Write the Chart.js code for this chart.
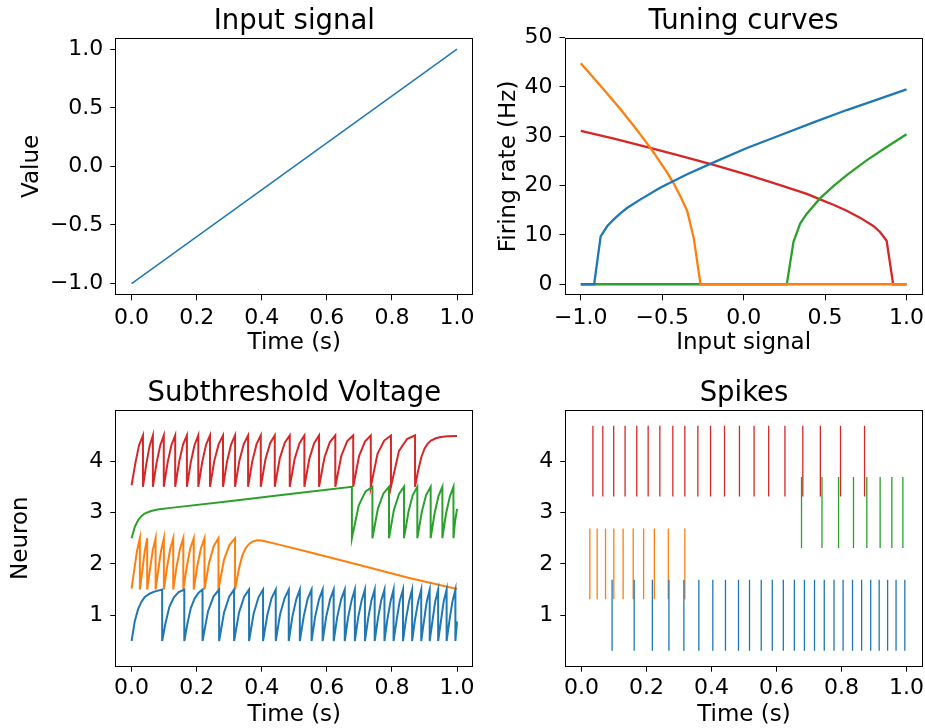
<!DOCTYPE html>
<html><head><meta charset="utf-8">
<script src="https://cdn.jsdelivr.net/npm/chart.js@4.4.1/dist/chart.umd.min.js"></script>
<style>
html,body{margin:0;padding:0;background:#fff;}
#fig{position:relative;width:925px;height:728px;overflow:hidden;background:#fff;}
canvas{position:absolute;left:0;top:0;}
.ttl{position:absolute;width:420px;text-align:center;font-family:'DejaVu Sans';font-size:27.5px;line-height:1;color:#000;white-space:nowrap;}
</style></head><body>
<div id="fig">
<canvas id="c1" width="925" height="728"></canvas>
<canvas id="c2" width="925" height="728"></canvas>
<canvas id="c3" width="925" height="728"></canvas>
<canvas id="c4" width="925" height="728"></canvas>
<div class="ttl" style="left:84.3px;top:6px">Input signal</div>
<div class="ttl" style="left:533.6px;top:6px">Tuning curves</div>
<div class="ttl" style="left:84.3px;top:378.2px">Subthreshold Voltage</div>
<div class="ttl" style="left:534px;top:378.2px">Spikes</div>
</div>
<script>
// ---------------- data ----------------
const colors = ['#1f77b4', '#ff7f0e', '#2ca02c', '#d62728'];

const timeTicks = [0, 0.2, 0.4, 0.6, 0.8, 1.0];
const timeTickLabels = ['0.0', '0.2', '0.4', '0.6', '0.8', '1.0'];
const signalTicks = [-1, -0.5, 0, 0.5, 1];
const signalTickLabels = ['\u22121.0', '\u22120.5', '0.0', '0.5', '1.0'];
const rateTicks = [0, 10, 20, 30, 40, 50];
const rateTickLabels = ['0', '10', '20', '30', '40', '50'];
const neuronTicks = [1, 2, 3, 4];
const neuronTickLabels = ['1', '2', '3', '4'];

// Input signal
const inputTime = [0, 1];
const inputValue = [-1, 1];

// Tuning curves: [input, rate Hz]
const tuning1 = [[-1,0],[-0.918,0],[-0.878,9.7],[-0.837,11.8],[-0.796,13.2],[-0.755,14.4],[-0.714,15.5],[-0.633,17.2],[-0.510,19.6],[-0.347,22.3],[-0.184,24.7],[0.020,27.6],[0.224,30.2],[0.429,32.8],[0.633,35.3],[0.837,37.6],[1.0,39.5]];
const tuning2 = [[-1,44.8],[-0.918,41.7],[-0.837,38.6],[-0.755,35.4],[-0.673,32.0],[-0.592,28.5],[-0.551,26.6],[-0.510,24.6],[-0.469,22.6],[-0.429,20.4],[-0.388,17.8],[-0.347,14.9],[-0.306,9.3],[-0.265,0],[1.0,0]];
const tuning3 = [[-1,0],[0.265,0],[0.306,8.6],[0.347,12.3],[0.388,14.3],[0.469,17.4],[0.551,19.9],[0.633,22.1],[0.755,25.1],[0.878,27.8],[1.0,30.4]];
const tuning4 = [[-1,31.1],[-0.796,29.5],[-0.592,27.8],[-0.388,26.0],[-0.184,24.2],[0.020,22.2],[0.224,20.1],[0.388,18.3],[0.469,17.2],[0.551,16.1],[0.633,14.9],[0.714,13.5],[0.796,11.8],[0.837,10.6],[0.878,8.8],[0.918,0],[1.0,0]];

// Spike times (s)
const spikes1 = [0.094,0.162,0.218,0.269,0.315,0.361,0.404,0.443,0.483,0.517,0.553,0.587,0.621,0.655,0.686,0.717,0.747,0.777,0.805,0.834,0.862,0.890,0.916,0.942,0.968,0.995];
const spikes2 = [0.0255,0.048,0.0738,0.0993,0.128,0.159,0.191,0.224,0.267,0.318];
const spikes3 = [0.677,0.740,0.791,0.837,0.878,0.919,0.955,0.989];
const spikes4 = [0.035,0.0655,0.099,0.134,0.170,0.205,0.241,0.281,0.318,0.358,0.397,0.440,0.486,0.531,0.576,0.626,0.681,0.735,0.797,0.871];

// Subthreshold voltage (normalised 0..1): [time, v]
const voltage1 = [[0,0],[0.01,0.39],[0.02,0.62],[0.03,0.76],[0.04,0.85],[0.055,0.92],[0.07,0.96],[0.094,1],
[0.094,0],[0.104,0.34],[0.116,0.66],[0.13,0.85],[0.145,0.95],[0.162,1],
[0.162,0],[0.172,0.35],[0.182,0.64],[0.194,0.83],[0.206,0.94],[0.218,1],
[0.218,0],[0.235,0.58],[0.252,0.87],[0.269,1],
[0.269,0],[0.284,0.55],[0.300,0.86],[0.315,1],
[0.315,0],[0.330,0.55],[0.346,0.86],[0.361,1],
[0.361,0],[0.375,0.53],[0.390,0.85],[0.404,1],
[0.404,0],[0.417,0.50],[0.430,0.83],[0.443,1],
[0.443,0],[0.456,0.51],[0.470,0.83],[0.483,1],
[0.483,0],[0.494,0.47],[0.506,0.81],[0.517,1],
[0.517,0],[0.529,0.48],[0.541,0.82],[0.553,1],
[0.553,0],[0.564,0.47],[0.576,0.81],[0.587,1],
[0.587,0],[0.598,0.47],[0.610,0.81],[0.621,1],
[0.621,0],[0.632,0.47],[0.644,0.81],[0.655,1],
[0.655,0],[0.665,0.45],[0.676,0.79],[0.686,1],
[0.686,0],[0.696,0.45],[0.707,0.79],[0.717,1],
[0.717,0],[0.727,0.44],[0.737,0.79],[0.747,1],
[0.747,0],[0.757,0.44],[0.767,0.79],[0.777,1],
[0.777,0],[0.786,0.42],[0.796,0.78],[0.805,1],
[0.805,0],[0.815,0.43],[0.824,0.78],[0.834,1],
[0.834,0],[0.843,0.42],[0.853,0.78],[0.862,1],
[0.862,0],[0.871,0.42],[0.881,0.78],[0.890,1],
[0.890,0],[0.899,0.41],[0.907,0.77],[0.916,1],
[0.916,0],[0.925,0.41],[0.933,0.77],[0.942,1],
[0.942,0],[0.951,0.41],[0.959,0.77],[0.968,1],
[0.968,0],[0.977,0.41],[0.986,0.77],[0.995,1],
[0.995,0],[1.0,0.38]];
const voltage2 = [[0,0.02],[0.0085,0.40],[0.017,0.76],[0.0255,1],
[0.0255,0],[0.033,0.37],[0.0405,0.75],[0.048,1],
[0.048,0],[0.0566,0.40],[0.0652,0.77],[0.0738,1],
[0.0738,0],[0.0823,0.40],[0.0908,0.76],[0.0993,1],
[0.0993,0],[0.1089,0.43],[0.1184,0.78],[0.128,1],
[0.128,0],[0.1383,0.45],[0.1487,0.79],[0.159,1],
[0.159,0],[0.1697,0.45],[0.1803,0.80],[0.191,1],
[0.191,0],[0.202,0.46],[0.213,0.80],[0.224,1],
[0.224,0],[0.2383,0.53],[0.2527,0.85],[0.267,1],
[0.267,0],[0.284,0.58],[0.301,0.87],[0.318,1],
[0.318,0],[0.33,0.41],[0.34,0.66],[0.35,0.80],[0.36,0.88],[0.37,0.93],[0.385,0.96],[0.40,0.955],[0.45,0.88],[0.55,0.72],[0.7,0.48],[0.85,0.23],[1.0,0.01]];
const voltage3 = [[0,0],[0.01,0.22],[0.02,0.35],[0.03,0.43],[0.04,0.48],[0.06,0.53],[0.08,0.56],[0.12,0.59],[0.3,0.72],[0.5,0.87],[0.677,1],
[0.677,0],[0.698,0.64],[0.719,0.91],[0.740,1],
[0.740,0],[0.757,0.58],[0.774,0.87],[0.791,1],
[0.791,0],[0.806,0.55],[0.822,0.86],[0.837,1],
[0.837,0],[0.851,0.52],[0.864,0.84],[0.878,1],
[0.878,0],[0.892,0.52],[0.905,0.84],[0.919,1],
[0.919,0],[0.931,0.48],[0.943,0.82],[0.955,1],
[0.955,0],[0.966,0.47],[0.978,0.81],[0.989,1],
[0.989,0],[0.994,0.33],[1.0,0.57]];
const voltage4 = [[0,0.03],[0.012,0.47],[0.023,0.81],[0.035,1],
[0.035,0],[0.0452,0.44],[0.0553,0.79],[0.0655,1],
[0.0655,0],[0.0767,0.46],[0.0878,0.80],[0.099,1],
[0.099,0],[0.1107,0.47],[0.1223,0.81],[0.134,1],
[0.134,0],[0.146,0.48],[0.158,0.82],[0.170,1],
[0.170,0],[0.1817,0.47],[0.1933,0.81],[0.205,1],
[0.205,0],[0.217,0.48],[0.229,0.82],[0.241,1],
[0.241,0],[0.2543,0.51],[0.2677,0.83],[0.281,1],
[0.281,0],[0.2933,0.49],[0.3057,0.82],[0.318,1],
[0.318,0],[0.3313,0.51],[0.3447,0.83],[0.358,1],
[0.358,0],[0.371,0.50],[0.384,0.83],[0.397,1],
[0.397,0],[0.4113,0.53],[0.4257,0.85],[0.440,1],
[0.440,0],[0.4553,0.55],[0.4707,0.86],[0.486,1],
[0.486,0],[0.501,0.54],[0.516,0.85],[0.531,1],
[0.531,0],[0.546,0.54],[0.561,0.85],[0.576,1],
[0.576,0],[0.5927,0.57],[0.6093,0.87],[0.626,1],
[0.626,0],[0.6443,0.60],[0.6627,0.89],[0.681,1],
[0.681,0],[0.699,0.60],[0.717,0.88],[0.735,1],
[0.735,0],[0.7557,0.64],[0.7763,0.90],[0.797,1],
[0.797,0],[0.8217,0.70],[0.8463,0.93],[0.871,1],
[0.871,0],[0.88,0.30],[0.89,0.57],[0.90,0.74],[0.91,0.84],[0.92,0.90],[0.935,0.945],[0.95,0.97],[0.97,0.985],[1.0,0.99]];

// ---------------- styling / helpers ----------------
const FONT = "'DejaVu Sans'";
const TICK_SIZE = 22;
const LABEL_SIZE = 23;
const SPIKE_HALF = 0.69;

const framePlugin = {
  id: 'frame',
  afterDraw(chart) {
    const a = chart.chartArea, c = chart.ctx;
    c.save();
    c.strokeStyle = '#000';
    c.lineWidth = 1;
    const l = Math.round(a.left) + 0.5, t = Math.round(a.top) + 0.5;
    const r = Math.round(a.right) - 0.5, b = Math.round(a.bottom) - 0.5;
    c.strokeRect(l, t, r - l, b - t);
    c.restore();
  }
};

function scale(axis, o) {
  const isX = axis === 'x';
  return {
    type: 'linear', position: isX ? 'bottom' : 'left', bounds: 'data',
    min: o.min, max: o.max,
    afterBuildTicks: s => { s.ticks = o.ticks.map(v => ({ value: v })); },
    afterFit: s => {
      if (isX) { s.height = o.size; s.paddingLeft = 0; s.paddingRight = 0; }
      else { s.width = o.size; s.paddingTop = 0; s.paddingBottom = 0; }
    },
    ticks: {
      autoSkip: false, maxRotation: 0, minRotation: 0, padding: o.pad, color: '#000',
      font: { family: FONT, size: TICK_SIZE, lineHeight: 1 },
      callback: (v, i) => o.labels[i]
    },
    grid: { drawOnChartArea: false, drawTicks: true, tickLength: 5, tickWidth: 1, tickColor: '#000' },
    border: { display: false },
    title: o.title ? { display: true, text: o.title, color: '#000', padding: 0,
      font: { family: FONT, size: LABEL_SIZE, lineHeight: 1 } } : { display: false }
  };
}

function pairs(arr, off) { return arr.map(p => ({ x: p[0], y: p[1] + off })); }

function lineDs(data, color, width) {
  return { data, borderColor: color, backgroundColor: color, borderWidth: width,
    pointRadius: 0, fill: false, tension: 0, spanGaps: false };
}

function makeChart(id, datasets, padding, xs, ys) {
  return new Chart(document.getElementById(id), {
    type: 'line',
    data: { datasets },
    options: {
      responsive: false, animation: false, devicePixelRatio: 1, events: [],
      layout: { padding },
      plugins: { legend: { display: false }, tooltip: { enabled: false }, title: { display: false } },
      scales: { x: scale('x', xs), y: scale('y', ys) }
    },
    plugins: [framePlugin]
  });
}

// ---------------- panel 1: input signal ----------------
makeChart('c1',
  [lineDs(inputTime.map((t, i) => ({ x: t, y: inputValue[i] })), colors[0], 1.5)],
  { left: 20.5, top: 37.5, right: 451.7, bottom: 373.2 },
  { min: -0.05, max: 1.05, ticks: timeTicks, labels: timeTickLabels, size: 59.5, pad: 6.6, title: 'Time (s)' },
  { min: -1.1, max: 1.1, ticks: signalTicks, labels: signalTickLabels, size: 94.8, pad: 7, title: 'Value' });

// ---------------- panel 2: tuning curves ----------------
makeChart('c2',
  [tuning1, tuning2, tuning3, tuning4].map((tc, i) => lineDs(pairs(tc, 0), colors[i], 2.3)),
  { left: 498, top: 37.5, right: 2.2, bottom: 373.2 },
  { min: -1.1, max: 1.1, ticks: signalTicks, labels: signalTickLabels, size: 59.5, pad: 6.6, title: 'Input signal' },
  { min: -2.24, max: 50, ticks: rateTicks, labels: rateTickLabels, size: 66.5, pad: 7, title: 'Firing rate (Hz)' });

// ---------------- panel 3: subthreshold voltage ----------------
makeChart('c3',
  [voltage1, voltage2, voltage3, voltage4].map((v, i) => lineDs(pairs(v, i + 0.5), colors[i], 2)),
  { left: 9.8, top: 409.7, right: 451.7, bottom: 1.3 },
  { min: -0.05, max: 1.05, ticks: timeTicks, labels: timeTickLabels, size: 60, pad: 6, title: 'Time (s)' },
  { min: 0, max: 5, ticks: neuronTicks, labels: neuronTickLabels, size: 105.5, pad: 7, title: 'Neuron' });

// ---------------- panel 4: spikes ----------------
function spikeSegments(times, row) {
  const out = [];
  times.forEach(s => {
    out.push({ x: s, y: row - SPIKE_HALF }, { x: s, y: row + SPIKE_HALF }, { x: s, y: null });
  });
  return out;
}
makeChart('c4',
  [spikes1, spikes2, spikes3, spikes4].map((sp, i) => lineDs(spikeSegments(sp, neuronTicks[i]), colors[i], 1.3)),
  { left: 460, top: 409.7, right: 2.3, bottom: 1.3 },
  { min: -0.05, max: 1.05, ticks: timeTicks, labels: timeTickLabels, size: 60, pad: 6, title: 'Time (s)' },
  { min: 0, max: 5, ticks: neuronTicks, labels: neuronTickLabels, size: 105.3, pad: 7 });
</script>
</body></html>
